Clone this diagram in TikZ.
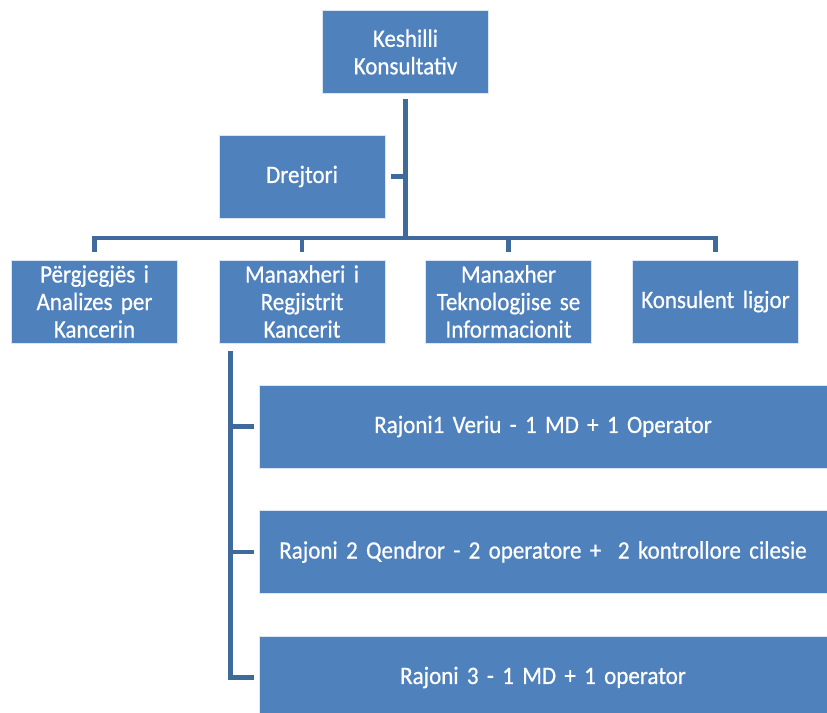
\documentclass[tikz,border=0pt]{standalone}
\usepackage{fontspec}
\setmainfont{Carlito}[FakeStretch=0.92, FakeBold=0.6, WordSpace=0.7]
\definecolor{boxblue}{HTML}{4F81BD}
\definecolor{lineblue}{HTML}{3F6A9C}
\begin{document}
\begin{tikzpicture}[x=1pt,y=-1pt,
  box/.style={fill=boxblue, draw=white!80!boxblue, line width=0.8pt, text=white,
    inner sep=0pt, align=center, font=\fontsize{25}{27.5}\selectfont},
  smallbox/.style={box, minimum width=166pt, minimum height=83pt, text width=160pt},
  widebox/.style={box, minimum width=568pt, minimum height=83pt, text width=560pt},
  conn/.style={draw=lineblue, line width=4.5pt}]
\useasboundingbox (0,0) rectangle (827,712);
\clip (0,0) rectangle (827,712);
\fill[white] (0,0) rectangle (827,712);
\node[smallbox] (k) at (405.5,52) {Keshilli\\Konsultativ};
\node[smallbox] (d) at (302,176.5) {Drejtori};
\node[smallbox] (b1) at (94.5,301.5) {Përgjegjës i\\Analizes per\\Kancerin};
\node[smallbox] (b2) at (302,301.5) {Manaxheri i\\Regjistrit\\Kancerit};
\node[smallbox] (b3) at (508.5,301.5) {Manaxher\\Teknologjise se\\Informacionit};
\node[smallbox] (b4) at (715.5,301.5) {Konsulent ligjor};
\node[widebox] (r1) at (543,426.5) {Rajoni1 Veriu - 1 MD + 1 Operator};
\node[widebox] (r2) at (543,552) {Rajoni 2 Qendror - 2 operatore +\ \ 2 kontrollore cilesie};
\node[widebox] (r3) at (543,677.5) {Rajoni 3 - 1 MD + 1 operator};
\coordinate (busy) at (0,238);
\coordinate (rl) at ([xshift=12pt]b2.south west);
\draw[conn, shorten <=5pt] (k.south) -- (k.south |- busy);
\draw[conn, shorten <=6pt] (d.east) -- (d.east -| k.south);
\draw[conn, shorten <=8pt, shorten >=8pt] (b1.north) -- (b1.north |- busy) -- (b4.north |- busy) -- (b4.north);
\draw[conn, shorten >=8pt] (b2.north |- busy) -- (b2.north);
\draw[conn, shorten >=8pt] (b3.north |- busy) -- (b3.north);
\draw[conn, shorten <=8pt, shorten >=5pt] (rl) -- (rl |- r3.west) -- (r3.west);
\draw[conn, shorten >=5pt] (rl |- r1.west) -- (r1.west);
\draw[conn, shorten >=5pt] (rl |- r2.west) -- (r2.west);
\end{tikzpicture}
\end{document}
